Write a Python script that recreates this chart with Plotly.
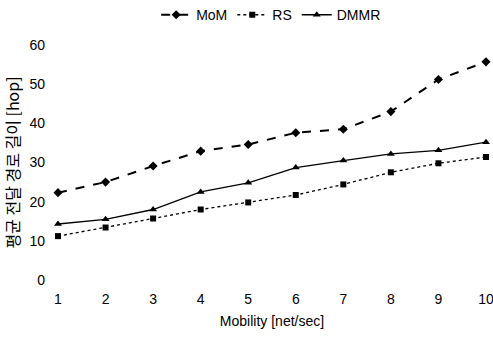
import plotly.graph_objects as go

mobility = [1, 2, 3, 4, 5, 6, 7, 8, 9, 10]
mom = [22.3, 25.0, 29.1, 32.9, 34.6, 37.6, 38.5, 43.0, 51.2, 55.7]
rs = [11.2, 13.4, 15.7, 18.0, 19.8, 21.7, 24.4, 27.5, 29.8, 31.4]
dmmr = [14.3, 15.5, 18.0, 22.5, 24.8, 28.7, 30.5, 32.2, 33.1, 35.2]
y_ticks = [0, 10, 20, 30, 40, 50, 60]

fig = go.Figure()
fig.add_trace(go.Scatter(x=mobility, y=mom, name="MoM", mode="lines+markers",
                         line=dict(color="black", width=2, dash="dash"),
                         marker=dict(symbol="diamond", size=7, color="black"), cliponaxis=False))
fig.add_trace(go.Scatter(x=mobility, y=rs, name="RS", mode="lines+markers",
                         line=dict(color="black", width=1.3, dash="dot"),
                         marker=dict(symbol="square", size=6, color="black"), cliponaxis=False))
fig.add_trace(go.Scatter(x=mobility, y=dmmr, name="DMMR", mode="lines+markers",
                         line=dict(color="black", width=1.3),
                         marker=dict(symbol="triangle-up", size=7, color="black"), cliponaxis=False))

fig.update_layout(
    width=493, height=337,
    margin=dict(l=58, r=7, t=45, b=57, autoexpand=False),
    paper_bgcolor="white", plot_bgcolor="white",
    font=dict(family="Liberation Sans, Noto Sans CJK KR", size=14, color="black"),
    showlegend=True,
    legend=dict(orientation="h", x=0.55, xanchor="center", xref="container",
                y=0.955, yanchor="middle", yref="container",
                font=dict(size=14), tracegroupgap=0),
    xaxis=dict(range=[1, 10], tickvals=mobility, showgrid=False, zeroline=False,
               showline=False, ticks="", ticklabelstandoff=9, automargin=False,
               ticklabeloverflow="allow",
               title=dict(text="Mobility [net/sec]", standoff=10, font=dict(size=14))),
    yaxis=dict(range=[0, 60], tickvals=y_ticks, showgrid=False, zeroline=False,
               showline=False, ticks="", ticklabelstandoff=12, automargin=False,
               title=dict(text="평균 전달 경로 길이 [hop]", standoff=12,
                          font=dict(size=16, family="Noto Sans CJK KR, Liberation Sans"))),
)
fig.write_html("out.html", config={"displayModeBar": False},
               post_script="document.body.style.margin='0';")
